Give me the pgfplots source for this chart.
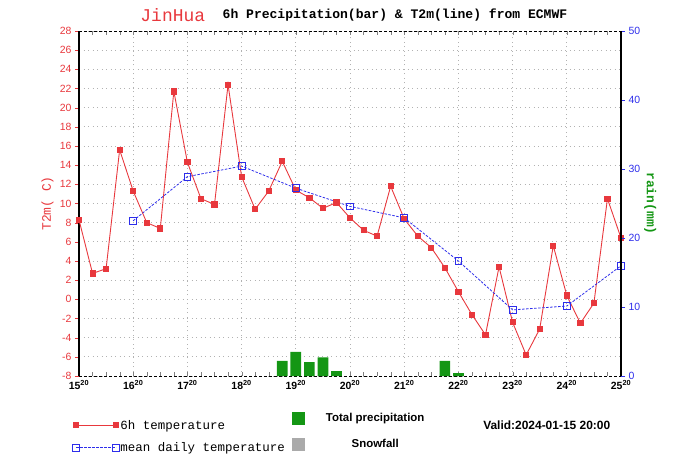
\documentclass[border=0pt]{standalone}
\usepackage{fontspec}
\setmainfont{Liberation Sans}
\newfontfamily\mono{Liberation Mono}
\usepackage{pgfplots}
\pgfplotsset{compat=1.18}
\usepackage{pgfplotstable}
\definecolor{tred}{RGB}{232,56,61}
\definecolor{tblue}{RGB}{45,45,235}
\definecolor{tgreen}{RGB}{20,150,20}
\definecolor{sgray}{RGB}{170,170,170}

\pgfplotstableread{
i t
0 8.3
1 2.7
2 3.2
3 15.6
4 11.3
5 8.0
6 7.4
7 21.7
8 14.3
9 10.5
10 9.9
11 22.4
12 12.8
13 9.4
14 11.3
15 14.4
16 11.4
17 10.6
18 9.5
19 10.1
20 8.5
21 7.2
22 6.6
23 11.8
24 8.4
25 6.6
26 5.4
27 3.3
28 0.8
29 -1.6
30 -3.7
31 3.4
32 -2.4
33 -5.8
34 -3.1
35 5.6
36 0.4
37 -2.5
38 -0.4
39 10.5
40 6.4
}\tsix

\pgfplotstableread{
i t
4 8.2
8 12.8
12 13.9
16 11.6
20 9.7
24 8.5
28 4.0
32 -1.1
36 -0.7
40 3.5
}\tmean

\pgfplotstableread{
i r
15 2.2
16 3.5
17 2.0
18 2.7
19 0.7
27 2.2
28 0.4
}\rain

\begin{document}
\begin{tikzpicture}
\begin{axis}[
  name=main,
  scale only axis,
  width=542bp, height=345bp,
  xmin=0, xmax=40, ymin=-8, ymax=28,
  xtick={0,4,...,40},
  xticklabels={15\textsuperscript{20},16\textsuperscript{20},17\textsuperscript{20},18\textsuperscript{20},19\textsuperscript{20},20\textsuperscript{20},21\textsuperscript{20},22\textsuperscript{20},23\textsuperscript{20},24\textsuperscript{20},25\textsuperscript{20}},
  minor x tick num=3,
  xtick align=inside,
  xtick pos=both,
  x tick label style={font=\bfseries\fontsize{10.5}{12}\selectfont, black, yshift=-1bp},
  ytick={-8,-6,...,28},
  ytick pos=left,
  ytick align=outside,
  y tick style={tred},
  y tick label style={font=\fontsize{10.5}{12}\selectfont, tred},
  /pgf/number format/assume math mode=true,
  major tick length=4bp, minor tick length=4bp,
  xmajorgrids, ymajorgrids,
  grid style={gray!60, dash pattern=on 1bp off 3.5bp, line width=0.7pt},
  separate axis lines,
  x axis line style={black, dash pattern=on 3bp off 2bp, line width=0.8pt},
  y axis line style={black, line width=1.2pt},
  ylabel={T2m(\hspace{0.6em}C)},
  ylabel style={font=\mono\fontsize{13}{14}\selectfont, tred, at={(axis description cs:-0.058,0.5)}, anchor=center},
  legend style={draw=none, fill=none, at={(axis description cs:-0.012,-0.124)}, anchor=north west,
     font=\mono\fontsize{12.5}{14}\selectfont, row sep=10bp, inner sep=0pt,
     nodes={inner sep=1bp}},
  legend cell align=left,
  legend image code/.code={\draw[mark repeat=2,mark phase=1,#1] plot coordinates {(0bp,0bp) (20bp,0bp) (40bp,0bp)};},
  clip=false,
]
\addplot[tred, line width=0.9pt, mark=square*, mark size=2.6bp, mark options={solid, fill=tred}] table[x=i,y=t]{\tsix};
\addlegendentry{6h temperature}
\addplot[tblue, line width=0.8pt, dash pattern=on 2.5bp off 1.5bp, mark=square, mark size=3.4bp, mark options={solid, line width=0.9pt, fill=white}] table[x=i,y=t]{\tmean};
\addlegendentry{mean daily temperature}
\node[font=\mono\fontsize{18}{20}\selectfont, tred, anchor=center] at (axis description cs:0.173,1.046) {JinHua};
\node[font=\mono\bfseries\fontsize{13.1}{14}\selectfont, black, anchor=center] at (axis description cs:0.583,1.046) {6h Precipitation(bar) \& T2m(line) from ECMWF};
\node[font=\bfseries\fontsize{12}{14}\selectfont, black, anchor=center] at (axis description cs:0.863,-0.142) {Valid:2024-01-15 20:00};
\end{axis}
\begin{axis}[
  scale only axis,
  width=542bp, height=345bp,
  xmin=0, xmax=40, ymin=0, ymax=50,
  axis x line=none,
  axis y line*=right,
  ytick={0,10,...,50},
  ytick align=outside,
  y tick style={tblue},
  major tick length=4bp,
  y tick label style={font=\fontsize{10.5}{12}\selectfont, tblue},
  /pgf/number format/assume math mode=true,
  y axis line style={black, line width=1.2pt},
  ylabel={rain(mm)},
  ylabel style={font=\mono\bfseries\fontsize{13}{14}\selectfont, tgreen, at={(axis description cs:1.054,0.5)}, anchor=center, rotate=180},
  legend style={draw=none, fill=none, at={(axis description cs:0.393,-0.104)}, anchor=north west,
     font=\bfseries\fontsize{11.5}{13}\selectfont, row sep=13bp, inner sep=0pt, nodes={inner sep=0pt}},
  legend image code/.code={\fill[#1] (0bp,-6.5bp) rectangle (13bp,6.5bp);},
  clip=false,
]
\addplot[ybar, bar width=10.7bp, bar shift=0pt, fill=tgreen, draw=none] table[x=i,y=r]{\rain};
\addlegendentry{\makebox[140bp]{Total precipitation}}
\addlegendimage{fill=sgray, draw=none}
\addlegendentry{\makebox[140bp]{Snowfall}}
\end{axis}
\pgfresetboundingbox
\path[use as bounding box] (main.south west) ++(-79bp,-88bp) rectangle ++(700bp,464bp);
\end{tikzpicture}
\end{document}
